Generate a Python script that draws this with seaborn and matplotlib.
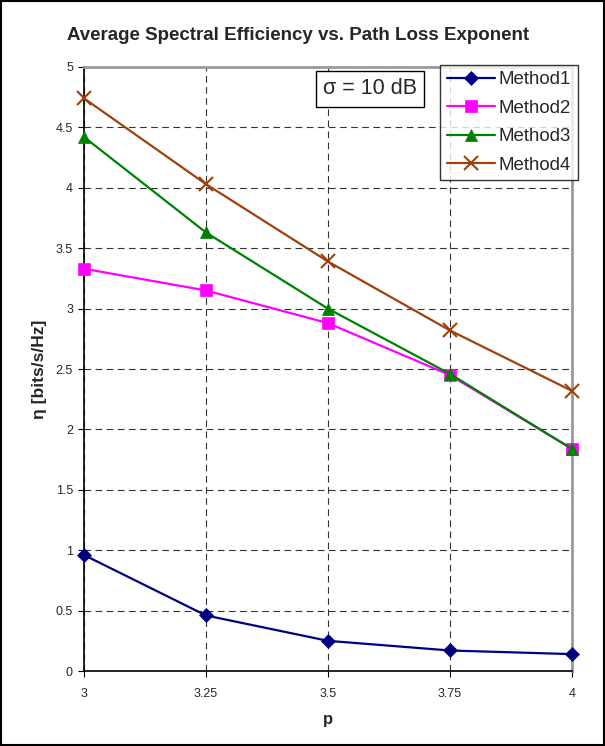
import matplotlib
matplotlib.use("Agg")
import matplotlib.pyplot as plt
import seaborn as sns
import pandas as pd

p_values = [3, 3.25, 3.5, 3.75, 4]
method1 = [0.96, 0.46, 0.25, 0.17, 0.14]
method2 = [3.33, 3.15, 2.88, 2.45, 1.84]
method3 = [4.42, 3.63, 3.00, 2.46, 1.84]
method4 = [4.74, 4.03, 3.39, 2.82, 2.32]
series_names = ["Method1", "Method2", "Method3", "Method4"]
x_ticks = [3, 3.25, 3.5, 3.75, 4]
x_tick_labels = ["3", "3.25", "3.5", "3.75", "4"]
y_ticks = [0, 0.5, 1, 1.5, 2, 2.5, 3, 3.5, 4, 4.5, 5]
y_tick_labels = ["0", "0.5", "1", "1.5", "2", "2.5", "3", "3.5", "4", "4.5", "5"]

sns.set_style("white")
plt.rcParams['font.family'] = ['Liberation Sans', 'DejaVu Sans']

df = pd.DataFrame({"p": p_values * 4,
                   "eta": method1 + method2 + method3 + method4,
                   "Method": sum([[n] * len(p_values) for n in series_names], [])})

colors = {"Method1": "#000080", "Method2": "#FF00FF", "Method3": "#008000", "Method4": "#A0400A"}
markers = {"Method1": "D", "Method2": "s", "Method3": "^", "Method4": "x"}
msizes = {"Method1": 7, "Method2": 8, "Method3": 9, "Method4": 10}

fig = plt.figure(figsize=(6.05, 7.46), dpi=100)
ax = fig.add_axes([0.139, 0.1005, 0.806, 0.8097])

for name in series_names:
    sub = df[df["Method"] == name]
    sns.lineplot(data=sub, x="p", y="eta", ax=ax, color=colors[name], marker=markers[name],
                 markersize=msizes[name], markeredgecolor=colors[name],
                 markeredgewidth=1.5 if name == "Method4" else 0.5,
                 linewidth=1.6, label=name, zorder=3, clip_on=False)

ax.set_xlim(3, 4)
ax.set_ylim(0, 5)
ax.set_xticks(x_ticks)
ax.set_xticklabels(x_tick_labels, fontsize=9)
ax.set_yticks(y_ticks)
ax.set_yticklabels(y_tick_labels, fontsize=9)
ax.tick_params(axis="x", pad=8, length=4, direction="out", color="black", bottom=True)
ax.tick_params(axis="y", length=4, direction="out", color="black", left=True, pad=4)
ax.grid(True, color="#333333", linestyle=(0, (6, 4)), linewidth=0.8)
ax.set_axisbelow(True)
for s in ["top", "right"]:
    ax.spines[s].set_color("#999999")
    ax.spines[s].set_linewidth(2.0)
for s in ["left", "bottom"]:
    ax.spines[s].set_color("black")
    ax.spines[s].set_linewidth(1.2)

ax.set_xlabel("p", fontsize=12, fontweight="bold", labelpad=9)
ax.set_ylabel("η [bits/s/Hz]", fontsize=12.5, fontweight="bold", labelpad=6)
fig.text(0.493, 0.953, "Average Spectral Efficiency vs. Path Loss Exponent", fontsize=13.5,
         fontweight="bold", ha="center", va="center")

leg = ax.legend(loc="upper right", bbox_to_anchor=(1.012, 1.004), frameon=True, fancybox=False,
                edgecolor="black", fontsize=13.4, handlelength=2.6, borderpad=0.35,
                labelspacing=0.62, handletextpad=0.2, borderaxespad=0)
leg.get_frame().set_linewidth(1.0)
leg.set_zorder(6)

ax.text(0.586, 0.9636, "σ = 10 dB", transform=ax.transAxes, fontsize=15.5, va="center", ha="center",
        bbox=dict(boxstyle="square,pad=0.33", facecolor="white", edgecolor="black", linewidth=1.0),
        zorder=5)

border = plt.Rectangle((0.002, 0.002), 0.996, 0.996, transform=fig.transFigure, fill=False,
                       edgecolor="black", linewidth=1.5)
fig.add_artist(border)

fig.savefig("out.png", dpi=100)
